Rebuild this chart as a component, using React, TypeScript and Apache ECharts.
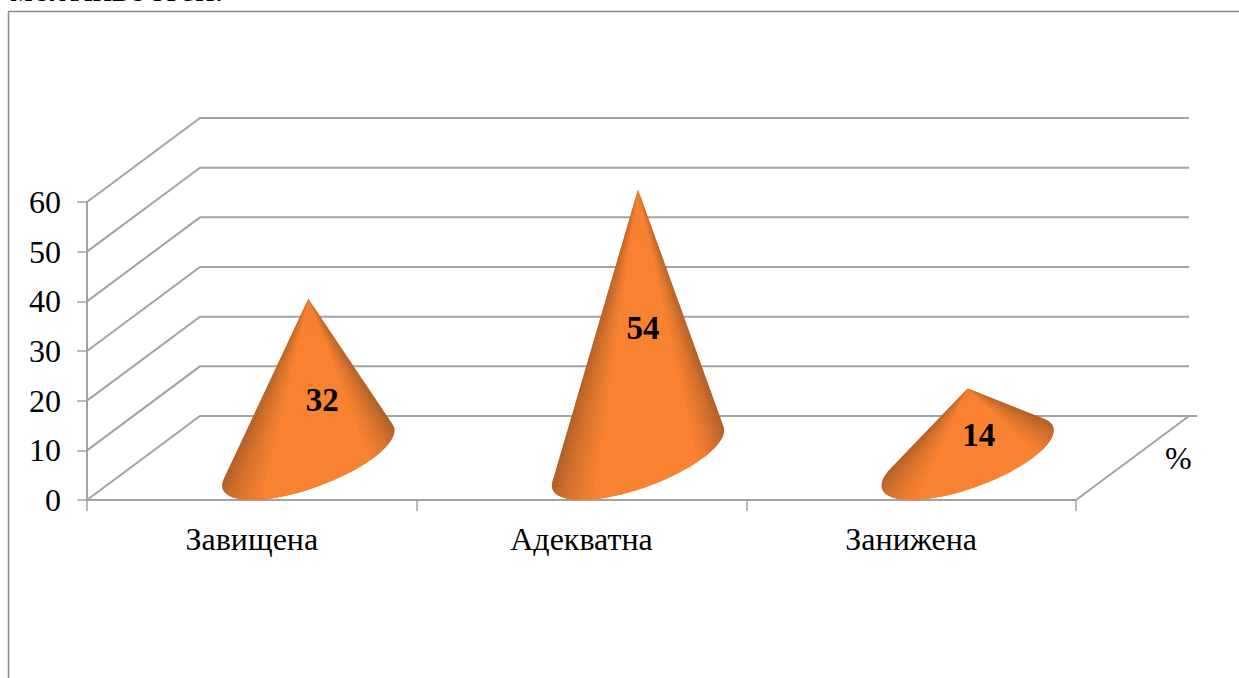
import React, { useEffect, useRef } from "react";
import * as echarts from "echarts";

// Self-esteem levels, percent of respondents
const categories = ["Завищена", "Адекватна", "Занижена"];
const values = [32, 54, 14];
const wallTicks = [0, 10, 20, 30, 40, 50, 60];
const captionText = "можливостей.";
const unitText = "%";

const SERIF = '"Liberation Serif", "Times New Roman", serif';
const LINE = "#a3a3a3";
const DEPTH = [113, -84];
const BASE_RADIUS_RATIO = 0.197;
const LABEL_OFFSETS = [
  [14, 21],
  [5, 4],
  [11, 12],
];
const DARK = [150, 84, 36];
const BRIGHT = [250, 131, 50];

const shade = (s: number) => {
  const edge = s < 0.35 ? s / 0.35 : s > 0.72 ? (1 - s) / 0.28 : 1;
  const f = Math.max(0, Math.min(1, edge));
  const c = DARK.map((d, i) => Math.round(d + (BRIGHT[i] - d) * f));
  return `rgb(${c[0]},${c[1]},${c[2]})`;
};

// Receding gridlines: side wall diagonal, then back wall across the plot
const renderWall = (params: any, api: any) => {
  const v = api.value(0);
  const pt = api.coord([0, v]);
  const sys = params.coordSys;
  const x0 = sys.x;
  const y0 = pt[1];
  const style = { stroke: LINE, lineWidth: 2, fill: "none" };
  const children: any[] = [
    {
      type: "polyline",
      shape: {
        points: [
          [x0, y0],
          [x0 + DEPTH[0], y0 + DEPTH[1]],
          [x0 + sys.width + DEPTH[0] + (v === 0 ? 8 : 0), y0 + DEPTH[1]],
        ],
      },
      style,
    },
  ];
  if (v === 0) {
    children.push({
      type: "line",
      shape: {
        x1: x0 + sys.width,
        y1: y0,
        x2: x0 + sys.width + DEPTH[0],
        y2: y0 + DEPTH[1],
      },
      style,
    });
  }
  return { type: "group", children };
};

// Cone standing mid-depth on the floor: a solid silhouette with fan slices over it
const renderCone = (params: any, api: any) => {
  const idx = params.dataIndex;
  const value = api.value(1);
  const front = api.coord([api.value(0), 0]);
  const top = api.coord([api.value(0), value]);
  const band = api.size([1, 0])[0];
  const a = band * BASE_RADIUS_RATIO;
  const cx = front[0] + DEPTH[0] / 2;
  const cy = front[1] + DEPTH[1] / 2;
  const apex = [top[0] + DEPTH[0] / 2, top[1] + DEPTH[1] / 2];
  const ring = (t: number) => [
    cx + Math.cos(t) * a + (Math.sin(t) * DEPTH[0]) / 2,
    cy + (Math.sin(t) * DEPTH[1]) / 2,
  ];
  let tL = 0;
  let tR = 0;
  let minA = Infinity;
  let maxA = -Infinity;
  for (let k = 0; k < 720; k++) {
    const t = (k / 720) * Math.PI * 2;
    const p = ring(t);
    const ang = Math.atan2(p[0] - apex[0], p[1] - apex[1]);
    if (ang < minA) {
      minA = ang;
      tL = t;
    }
    if (ang > maxA) {
      maxA = ang;
      tR = t;
    }
  }
  if (tR < tL) tR += Math.PI * 2;
  const slices = 48;
  const rim: number[][] = [];
  for (let k = 0; k <= slices; k++) rim.push(ring(tL + ((tR - tL) * k) / slices));
  const children: any[] = [
    { type: "polygon", shape: { points: [apex, ...rim] }, style: { fill: "rgb(232,122,48)" } },
  ];
  for (let k = 0; k < slices; k++) {
    children.push({
      type: "polygon",
      shape: { points: [apex, rim[k], rim[k + 1]] },
      style: { fill: shade((k + 0.5) / slices) },
    });
  }
  const off = LABEL_OFFSETS[idx];
  children.push({
    type: "text",
    x: apex[0] + off[0],
    y: (apex[1] + cy) / 2 + off[1],
    style: {
      text: String(value),
      fontFamily: SERIF,
      fontSize: 33,
      fontWeight: "bold",
      fill: "#000",
      align: "center",
      verticalAlign: "middle",
    },
  });
  return { type: "group", children };
};

export default function App() {
  const ref = useRef<HTMLDivElement>(null);
  useEffect(() => {
    const chart = echarts.init(ref.current!, null, { renderer: "svg" });
    chart.setOption({
      animation: false,
      backgroundColor: "#fff",
      grid: { left: 87, right: 163, top: 202, bottom: 178 },
      xAxis: {
        type: "category",
        data: categories,
        axisLine: { lineStyle: { color: LINE, width: 2 } },
        axisTick: { show: true, length: 11, lineStyle: { color: LINE, width: 1.5 } },
        axisLabel: { fontFamily: SERIF, fontSize: 32, color: "#000", margin: 23 },
      },
      yAxis: {
        type: "value",
        min: 0,
        max: 60,
        interval: 10,
        splitLine: { show: false },
        axisLine: { show: true, lineStyle: { color: LINE, width: 2 } },
        axisTick: { show: true, length: 10, lineStyle: { color: LINE, width: 1.5 } },
        axisLabel: { fontFamily: SERIF, fontSize: 32, color: "#000", margin: 26 },
      },
      graphic: [
        {
          type: "text",
          x: 10,
          y: -29,
          style: { text: captionText, fontFamily: SERIF, fontSize: 36, fill: "#000" },
        },
        {
          type: "text",
          x: 1165,
          y: 442,
          style: { text: unitText, fontFamily: SERIF, fontSize: 32, fill: "#000" },
        },
        {
          type: "polyline",
          shape: { points: [[8.5, 678], [8.5, 11.5], [1239, 11.5]] },
          style: { stroke: "#8c8c8c", lineWidth: 1.5, fill: "none" },
        },
      ],
      series: [
        {
          type: "custom",
          silent: true,
          z: 1,
          renderItem: renderWall,
          encode: { y: 0 },
          data: wallTicks.map((v) => [v]),
        },
        {
          type: "custom",
          silent: true,
          z: 3,
          renderItem: renderCone,
          encode: { x: 0, y: 1 },
          data: values.map((v, i) => [i, v]),
        },
      ],
    });
    return () => chart.dispose();
  }, []);
  return (
    <div
      ref={ref}
      style={{ position: "fixed", left: 0, top: 0, width: 1239, height: 678 }}
    />
  );
}
